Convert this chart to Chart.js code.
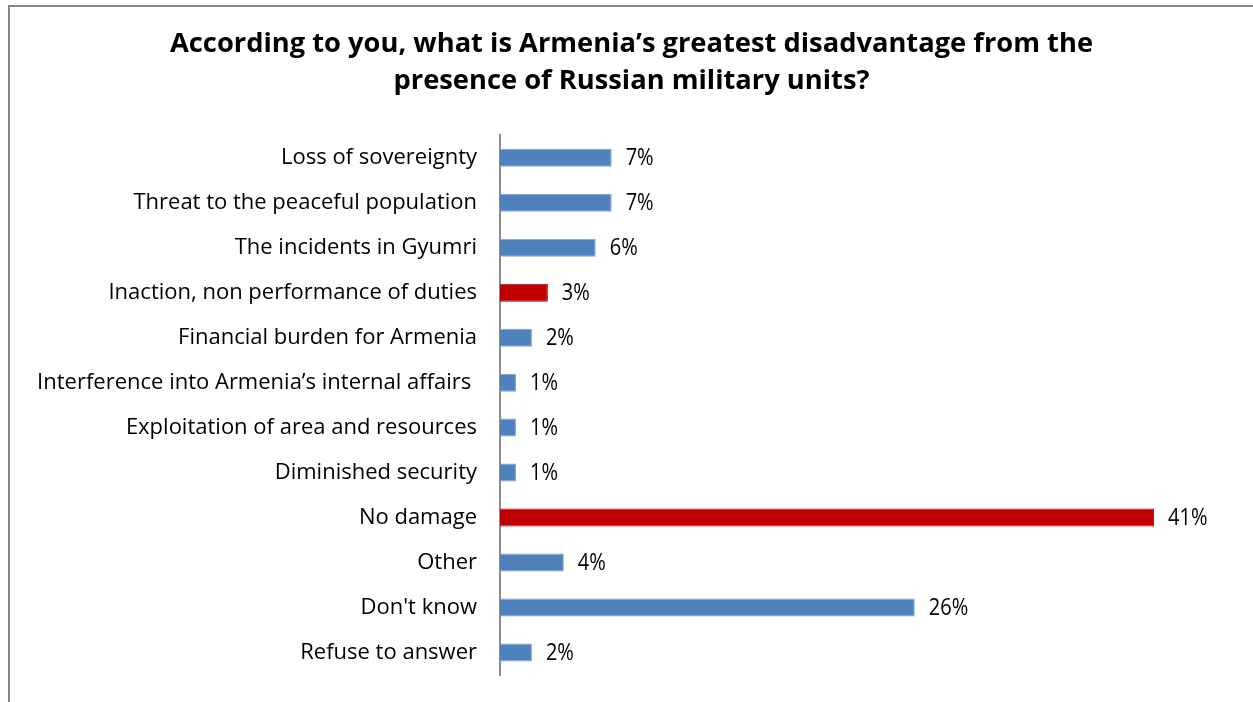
<!DOCTYPE html>
<html>
<head>
<meta charset="utf-8">
<script src="https://cdn.jsdelivr.net/npm/chart.js@4/dist/chart.umd.min.js"></script>
<style>
  html, body { margin: 0; padding: 0; background: #fff; }
  #wrap { position: relative; width: 1253px; height: 702px; overflow: hidden; }
  #frame { position: absolute; left: 8px; top: 5px; right: -4px; bottom: -4px;
           border-left: 2px solid #878787; border-top: 2px solid #878787; pointer-events: none; }
  canvas { position: absolute; left: 0; top: 0; }
</style>
</head>
<body>
<div id="wrap">
  <canvas id="chart" width="1253" height="702"></canvas>
  <div id="frame"></div>
</div>
<script>
// Survey answers, top to bottom
const categories = [
  "Loss of sovereignty",
  "Threat to the peaceful population",
  "The incidents in Gyumri",
  "Inaction, non performance of duties",
  "Financial burden for Armenia",
  "Interference into Armenia\u2019s internal affairs ",
  "Exploitation of area and resources",
  "Diminished security",
  "No damage",
  "Other",
  "Don't know",
  "Refuse to answer"
];
// Share of respondents, %
const shares = [7, 7, 6, 3, 2, 1, 1, 1, 41, 4, 26, 2];
// Answers shown in red
const highlighted = ["Inaction, non performance of duties", "No damage"];

const titleLines = [
  "According to you, what is Armenia\u2019s greatest disadvantage from the",
  "presence of Russian military units?"
];

const BLUE = "#4F81BD";
const RED = "#C00000";
const FONT = "'Open Sans', Lato, sans-serif";

const barColors = categories.map(c => highlighted.includes(c) ? RED : BLUE);
const barEdges = categories.map(c => highlighted.includes(c) ? RED : "#7FA3D3");

// Writes "n%" just past the end of each bar, in a slightly condensed face
const valueLabels = {
  id: "valueLabels",
  afterDatasetsDraw(chart) {
    const ctx = chart.ctx;
    const meta = chart.getDatasetMeta(0);
    const squeeze = 0.87;
    ctx.save();
    ctx.font = "23px " + FONT;
    ctx.fillStyle = "#000";
    ctx.textAlign = "left";
    ctx.textBaseline = "middle";
    meta.data.forEach((bar, i) => {
      ctx.save();
      ctx.translate(bar.x + 14, bar.y + 1);
      ctx.scale(squeeze, 1);
      ctx.fillText(shares[i] + "%", 0, 0);
      ctx.restore();
    });
    ctx.restore();
  }
};

new Chart(document.getElementById("chart"), {
  type: "bar",
  data: {
    labels: categories,
    datasets: [{
      data: shares,
      backgroundColor: barColors,
      borderColor: barEdges,
      borderWidth: 1,
      barPercentage: 0.8,
      categoryPercentage: 0.5
    }]
  },
  options: {
    indexAxis: "y",
    responsive: false,
    animation: false,
    events: [],
    layout: { padding: { left: 10, right: 0, top: 0, bottom: 27 } },
    plugins: {
      legend: { display: false },
      tooltip: { enabled: false },
      title: {
        display: true,
        text: titleLines,
        color: "#000",
        font: { family: FONT, size: 27.3, weight: "bold", lineHeight: 1.36 },
        padding: { top: 26, bottom: 35 }
      }
    },
    scales: {
      x: {
        display: false,
        min: 0,
        max: 47.2
      },
      y: {
        afterFit(scale) {
          // fixed label column; the axis line sits on the plot's left edge
          scale.width = 490;
          scale.paddingTop = 0;
          scale.paddingBottom = 0;
        },
        grid: { display: false, drawTicks: false },
        border: { display: true, color: "#8c8c8c", width: 2 },
        ticks: {
          color: "#000",
          padding: 23,
          font: { family: FONT, size: 22 }
        }
      }
    }
  },
  plugins: [valueLabels]
});
</script>
</body>
</html>
